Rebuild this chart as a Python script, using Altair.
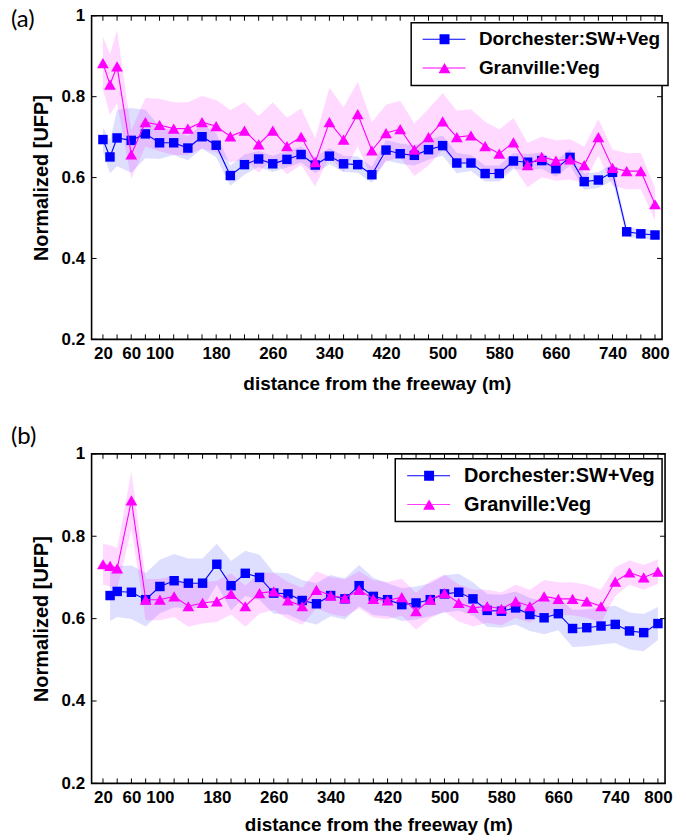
import altair as alt
import pandas as pd

# ---------------- data ----------------
DIST = [20, 30, 40, 60, 80, 100, 120, 140, 160, 180, 200, 220, 240, 260, 280,
        300, 320, 340, 360, 380, 400, 420, 440, 460, 480, 500, 520, 540, 560,
        580, 600, 620, 640, 660, 680, 700, 720, 740, 760, 780, 800]
XTICK_LABELS = [20, 60, 100, 180, 260, 340, 420, 500, 580, 660, 740, 800]
XTICK_MARKS = [20, 40, 60, 80, 100, 120, 140, 160, 180, 200, 220, 240, 260, 280,
               300, 320, 340, 360, 380, 400, 420, 440, 460, 480, 500, 520, 540,
               560, 580, 600, 620, 640, 660, 680, 700, 720, 740, 760, 780, 800]
YTICKS = [0.2, 0.4, 0.6, 0.8, 1.0]
SERIES = ["Dorchester:SW+Veg", "Granville:Veg"]
COLORS = ["#0000ff", "#ff00ff"]

# panel (a)
A_DOR = [0.694, 0.651, 0.698, 0.692, 0.708, 0.686, 0.686, 0.673, 0.701, 0.680,
         0.605, 0.632, 0.646, 0.634, 0.645, 0.657, 0.631, 0.653, 0.634, 0.632,
         0.607, 0.668, 0.659, 0.655, 0.669, 0.679, 0.636, 0.636, 0.610, 0.610,
         0.641, 0.638, 0.642, 0.622, 0.650, 0.590, 0.594, 0.613, 0.466, 0.461, 0.458]
A_DOR_ERR = [0.03, 0.04, 0.07, 0.08, 0.06, 0.04, 0.03, 0.03, 0.03, 0.03,
             0.025, 0.025, 0.02, 0.02, 0.02, 0.02, 0.02, 0.02, 0.02, 0.02,
             0.02, 0.025, 0.025, 0.025, 0.025, 0.025, 0.025, 0.02, 0.02, 0.02,
             0.02, 0.02, 0.02, 0.02, 0.02, 0.02, 0.02, 0.02, 0.012, 0.012, 0.012]
A_GRA = [0.883, 0.830, 0.875, 0.657, 0.737, 0.730, 0.721, 0.721, 0.737, 0.727,
         0.702, 0.716, 0.682, 0.716, 0.678, 0.701, 0.638, 0.737, 0.694, 0.757,
         0.667, 0.710, 0.720, 0.669, 0.700, 0.739, 0.700, 0.704, 0.678, 0.659,
         0.687, 0.631, 0.651, 0.642, 0.645, 0.631, 0.700, 0.624, 0.616, 0.616, 0.534]
A_GRA_ERR = [0.065, 0.075, 0.09, 0.06, 0.06, 0.065, 0.065, 0.065, 0.065, 0.065,
             0.065, 0.07, 0.07, 0.07, 0.07, 0.07, 0.06, 0.085, 0.08, 0.08,
             0.07, 0.07, 0.07, 0.065, 0.07, 0.07, 0.065, 0.065, 0.06, 0.06,
             0.06, 0.055, 0.05, 0.05, 0.05, 0.045, 0.045, 0.045, 0.045, 0.045, 0.04]

# panel (b)
B_DOR = [None, 0.656, 0.666, 0.664, 0.646, 0.678, 0.692, 0.686, 0.686, 0.732,
         0.680, 0.710, 0.700, 0.662, 0.660, 0.644, 0.636, 0.656, 0.648, 0.680,
         0.654, 0.646, 0.634, 0.638, 0.646, 0.660, 0.664, 0.648, 0.620, 0.618,
         0.626, 0.610, 0.602, 0.612, 0.576, 0.578, 0.582, 0.586, 0.570, 0.566, 0.588]
B_DOR_ERR = [0.0, 0.062, 0.062, 0.065, 0.065, 0.065, 0.065, 0.06, 0.06, 0.05,
             0.06, 0.055, 0.055, 0.05, 0.05, 0.05, 0.05, 0.05, 0.05, 0.05,
             0.045, 0.04, 0.04, 0.04, 0.04, 0.045, 0.045, 0.04, 0.04, 0.04,
             0.04, 0.04, 0.04, 0.04, 0.045, 0.045, 0.045, 0.045, 0.045, 0.045, 0.04]
B_GRA = [0.732, 0.728, 0.722, 0.887, 0.646, 0.646, 0.654, 0.630, 0.638, 0.642,
         0.660, 0.630, 0.662, 0.666, 0.644, 0.630, 0.670, 0.656, 0.650, 0.670,
         0.648, 0.644, 0.652, 0.618, 0.646, 0.662, 0.638, 0.626, 0.630, 0.624,
         0.642, 0.630, 0.654, 0.648, 0.648, 0.642, 0.630, 0.690, 0.712, 0.700, 0.714]
B_GRA_ERR = [0.05, 0.05, 0.05, 0.07, 0.05, 0.05, 0.05, 0.05, 0.05, 0.05,
             0.05, 0.05, 0.05, 0.045, 0.045, 0.045, 0.045, 0.045, 0.045, 0.045,
             0.045, 0.045, 0.045, 0.045, 0.045, 0.045, 0.045, 0.045, 0.04, 0.04,
             0.04, 0.04, 0.04, 0.04, 0.04, 0.04, 0.04, 0.035, 0.03, 0.03, 0.03]

# legend symbols: a line segment with the marker on it
SYM_SQUARE = "M-1,-0.1H7.6V0.1H-1Z M2.4,-1H4.4V1H2.4Z"
SYM_TRIANGLE = "M-1,-0.1H7.6V0.1H-1Z M3.4,-1.04L4.6,1.04L2.2,1.04Z"

FONT = "Liberation Sans"


def panel(dor, dor_err, gra, gra_err, W, H, tag, title_offset, leg_x, leg_y,
          leg_font, xtitle_y):
    rows = []
    for i, d in enumerate(DIST):
        for s, vals, errs in ((SERIES[0], dor, dor_err), (SERIES[1], gra, gra_err)):
            v = vals[i]
            e = errs[i]
            rows.append({
                "x": d, "series": s, "y": v,
                "lo": None if v is None else v - e,
                "hi": None if v is None else v + e,
            })
    df = pd.DataFrame(rows)

    xs = alt.Scale(domain=[4, 810], nice=False, zero=False)
    ys = alt.Scale(domain=[0.2, 1.0], nice=False, zero=False)
    xaxis = alt.Axis(values=XTICK_LABELS, title="distance from the freeway (m)",
                     titleY=xtitle_y, titleBaseline="middle", labelPadding=6,
                     labelFlush=False, labelOverlap=False)
    yaxis = alt.Axis(values=YTICKS, format=".1~f", title="Normalized [UFP]",
                     titleX=-50, titleBaseline="middle", labelPadding=7,
                     labelFlush=False, labelOverlap=False)
    X = alt.X("x:Q", scale=xs, axis=xaxis)
    Y = alt.Y("y:Q", scale=ys, axis=yaxis)

    base = alt.Chart(df)
    layers = []
    for s, c, op in ((SERIES[0], COLORS[0], 0.13), (SERIES[1], COLORS[1], 0.15)):
        layers.append(
            base.transform_filter(alt.datum.series == s)
            .mark_area(color=c, opacity=op)
            .encode(x=X, y=alt.Y("lo:Q", scale=ys, axis=yaxis), y2="hi:Q")
        )
    for s, c, shp, sz in ((SERIES[0], COLORS[0], "square", 90),
                          (SERIES[1], COLORS[1], "triangle-up", 140)):
        sub = base.transform_filter(alt.datum.series == s)
        layers.append(sub.mark_line(color=c, strokeWidth=1.1).encode(x=X, y=Y))
        layers.append(sub.mark_point(shape=shp, filled=True, size=sz, color=c,
                                     opacity=1).encode(x=X, y=Y))

    leg = alt.Legend(title=None, orient="none", legendX=leg_x, legendY=leg_y,
                     labelFontSize=leg_font, labelOffset=42, labelLimit=0,
                     symbolSize=100, symbolStrokeWidth=0, rowPadding=9)
    layers.append(
        base.transform_filter("false")
        .mark_point(filled=True, opacity=1)
        .encode(
            x=X, y=Y,
            color=alt.Color("series:N", scale=alt.Scale(domain=SERIES, range=COLORS), legend=leg),
            shape=alt.Shape("series:N", scale=alt.Scale(domain=SERIES, range=[SYM_SQUARE, SYM_TRIANGLE]), legend=leg),
        )
    )

    # inward tick marks on all four sides (MATLAB style box)
    xt = pd.DataFrame({"t": XTICK_MARKS})
    yt = pd.DataFrame({"v": YTICKS})
    XT = alt.X("t:Q", scale=xs, axis=xaxis)
    YT = alt.Y("v:Q", scale=ys, axis=yaxis)
    layers.append(alt.Chart(xt).mark_rule(color="black", strokeWidth=1)
                  .encode(x=XT, y=alt.value(0), y2=alt.value(5)))
    layers.append(alt.Chart(xt).mark_rule(color="black", strokeWidth=1)
                  .encode(x=XT, y=alt.value(H), y2=alt.value(H - 5)))
    layers.append(alt.Chart(yt).mark_rule(color="black", strokeWidth=1)
                  .encode(y=YT, x=alt.value(0), x2=alt.value(5)))
    layers.append(alt.Chart(yt).mark_rule(color="black", strokeWidth=1)
                  .encode(y=YT, x=alt.value(W), x2=alt.value(W - 5)))

    return alt.layer(*layers).properties(
        width=W, height=H,
        title=alt.TitleParams(tag, anchor="start", frame="group", dx=-81,
                              offset=title_offset, fontSize=24, font="Lato",
                              fontWeight="normal", color="black"),
    )


pa = panel(A_DOR, A_DOR_ERR, A_GRA, A_GRA_ERR, 573, 325, "(a)", -25, 321, 7, 19, 44)
pb = panel(B_DOR, B_DOR_ERR, B_GRA, B_GRA_ERR, 576, 331, "(b)", -4, 305, 5, 20, 41)

chart = (
    alt.vconcat(pa, pb, spacing=115, bounds="flush")
    .resolve_scale(color="independent", shape="independent")
    .resolve_legend(color="independent", shape="independent")
    .properties(padding={"left": 10, "top": 4, "right": 4, "bottom": 4})
    .configure_view(stroke="black", strokeWidth=1.6)
    .configure_axis(labelFont=FONT, labelFontWeight="bold", labelFontSize=17,
                    labelColor="black", titleFont=FONT, titleFontWeight="bold",
                    titleFontSize=19, titleColor="black", grid=False,
                    ticks=False, domain=False)
    .configure_axisY(titleFontSize=20)
    .configure_legend(labelFont=FONT, labelFontWeight="bold", labelColor="black",
                      strokeColor="black", strokeWidth=1.5, fillColor="white",
                      padding=7, cornerRadius=0)
)

chart.save("out.html", embed_options={"renderer": "svg", "actions": False})
